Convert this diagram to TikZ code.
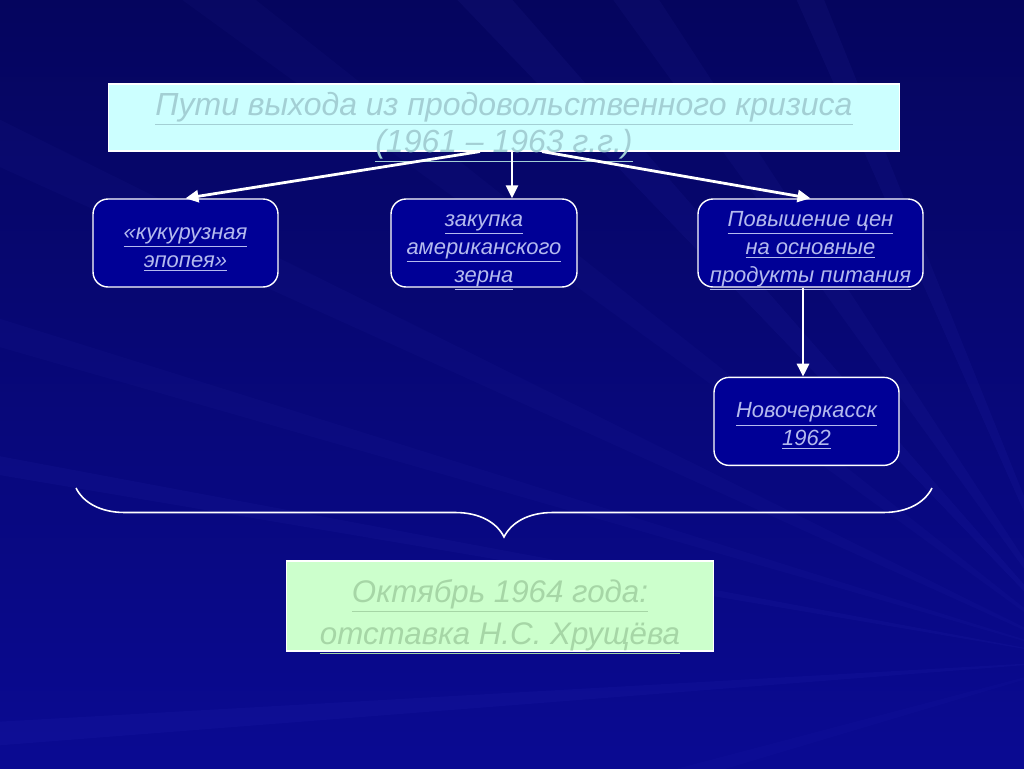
\documentclass[tikz,border=0pt]{standalone}
\usepackage{fontspec}
\setmainfont{Liberation Sans}
\usetikzlibrary{arrows.meta,positioning,decorations.pathreplacing}
\definecolor{Night}{HTML}{0A0A92}
\definecolor{DeepNight}{HTML}{05055E}
\definecolor{Ray}{HTML}{5A5AF5}
\definecolor{Sky}{HTML}{CCFFFF}
\definecolor{SkyInk}{HTML}{A3CFD4}
\definecolor{Mint}{HTML}{CCFFCC}
\definecolor{MintInk}{HTML}{A6D6A6}
\definecolor{Cobalt}{HTML}{000096}
\definecolor{CobaltInk}{HTML}{B4BAEE}
\newcommand{\lineul}[1]{\underline{#1}}
\tikzset{
  headbox/.style={
    draw=white, line width=0.6pt, fill=Sky, text=SkyInk,
    minimum width=15.84cm, minimum height=1.34cm, inner sep=0pt, inner ysep=-1pt,
    text height=40pt, text depth=0pt,
    align=center, font=\fontsize{18.2}{21}\selectfont\itshape
  },
  stagebox/.style={
    rounded corners=0.3cm, draw=white, line width=0.8pt, fill=Cobalt,
    text=CobaltInk, minimum height=1.76cm, inner sep=2pt,
    text height=28pt, text depth=0pt,
    align=center, font=\fontsize{12.5}{16}\selectfont\itshape
  },
  endbox/.style={
    draw=white, line width=0.6pt, fill=Mint, text=MintInk,
    minimum width=8.56cm, minimum height=1.8cm, inner sep=0pt,
    text height=44pt, text depth=0pt,
    align=center, font=\fontsize{17.8}{24}\selectfont\itshape
  },
  link/.style={-{Triangle[length=2.6mm,width=2.4mm]}, line width=1.6pt, draw=white},
  bracket/.style={draw=white, line width=0.9pt, decorate,
    decoration={brace, mirror, amplitude=0.98cm}}
}
\begin{document}
\begin{tikzpicture}[x=0.02cm,y=-0.02cm]
    \useasboundingbox (0,0) rectangle (1024,768);
    \begin{scope}
      \clip (0,0) rectangle (1024,768);
      \shade[top color=DeepNight, bottom color=Night] (0,0) rectangle (1024,768);
      \coordinate (focus) at (1090,660);
      \foreach \ax/\ay/\bx/\by/\op in {100/-60/180/-60/0.04, 400/-60/460/-60/0.06,
          570/-60/620/-60/0.05, 770/-60/800/-60/0.06, -60/90/-60/140/0.04,
          -60/300/-60/330/0.04, -60/445/-60/465/0.05, -60/725/-60/750/0.05,
          330/860/420/860/0.03}
        \fill[Ray, opacity=\op] (focus) -- (\ax,\ay) -- (\bx,\by) -- cycle;
    \end{scope}
    % boxes
    \node[headbox] (crisis) at (504,117.5)
      {\lineul{Пути выхода из продовольственного кризиса}\\\lineul{(1961 – 1963 г.г.)}};
    \node[stagebox, minimum width=3.7cm] (corn) at (185.5,243)
      {\lineul{«кукурузная}\\\lineul{эпопея»}};
    \node[stagebox, minimum width=3.72cm, text height=45pt] (grain) at (484,243)
      {\lineul{закупка}\\\lineul{американского}\\\lineul{зерна}};
    \node[stagebox, minimum width=4.5cm, text height=45pt] (prices) at (810.5,243)
      {\lineul{Повышение цен}\\\lineul{на основные}\\\lineul{продукты питания}};
    \node[stagebox, minimum width=3.7cm, below=1.78cm of prices, xshift=-0.08cm] (novo)
      {\lineul{Новочеркасск}\\\lineul{1962}};
    \node[endbox] (resign) at (500,606)
      {\lineul{Октябрь 1964 года:}\\\lineul{отставка Н.С. Хрущёва}};
    % arrows
    \draw[link] ([xshift=-0.48cm]crisis.south) -- (corn.north);
    \draw[link] ([xshift=0.16cm]crisis.south) -- ([xshift=0.16cm]crisis.south |- grain.north);
    \draw[link] ([xshift=0.76cm]crisis.south) -- (prices.north);
    \draw[link] ([xshift=-0.15cm]prices.south) -- ([xshift=-0.15cm]prices.south |- novo.north);
    % brace
    \coordinate (braceL) at (76,488);
    \coordinate (braceR) at (932,488);
    \draw[bracket] (braceL) -- (braceR);
\end{tikzpicture}
\end{document}
